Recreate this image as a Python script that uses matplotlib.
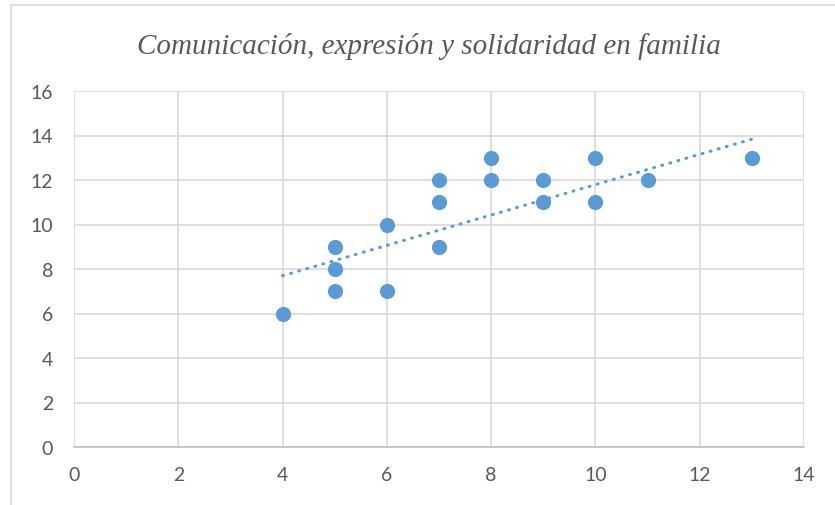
import matplotlib
matplotlib.use("Agg")
import matplotlib.pyplot as plt
import numpy as np
from matplotlib.lines import Line2D

title = "Comunicación, expresión y solidaridad en familia"
x_vals = [4, 5, 5, 5, 6, 6, 7, 7, 7, 8, 8, 9, 9, 10, 10, 11, 13]
y_vals = [6, 9, 8, 7, 10, 7, 12, 11, 9, 13, 12, 12, 11, 13, 11, 12, 13]
trend_coef = [0.682, 4.97]  # slope, intercept
x_ticks = [0, 2, 4, 6, 8, 10, 12, 14]
y_ticks = [0, 2, 4, 6, 8, 10, 12, 14, 16]

blue = "#5B9BD5"
grid = "#D9D9D9"
txt = "#595959"

fig = plt.figure(figsize=(8.35, 5.06), dpi=100)
fig.patch.set_facecolor("white")

# chart border
fig.add_artist(Line2D([10.5/835, 10.5/835], [0, 1 - 5.5/506], color="#D9D9D9", lw=1.2, transform=fig.transFigure))
fig.add_artist(Line2D([10.5/835, 1], [1 - 5.5/506, 1 - 5.5/506], color="#D9D9D9", lw=1.2, transform=fig.transFigure))

ax = fig.add_axes([74/835, 58/506, 730/835, 356/506])
ax.set_xlim(0, 14)
ax.set_ylim(0, 16)
ax.set_xticks(x_ticks)
ax.set_yticks(y_ticks)
ax.grid(True, color=grid, lw=1.2)
ax.set_axisbelow(True)
for s in ["top", "right", "left"]:
    ax.spines[s].set_visible(False)
ax.spines["bottom"].set_color("#BFBFBF")
ax.spines["bottom"].set_linewidth(1.2)
ax.tick_params(length=0, labelsize=14, labelcolor=txt)
ax.tick_params(axis="x", pad=14)
ax.tick_params(axis="y", pad=15)
for lab in ax.get_xticklabels() + ax.get_yticklabels():
    lab.set_family(["Lato", "DejaVu Sans"])

ax.scatter(x_vals, y_vals, s=120, color=blue, zorder=3, linewidths=0)

tx = np.array([min(x_vals), max(x_vals)])
ax.plot(tx, np.polyval(trend_coef, tx), color=blue, lw=2.2, linestyle=(0, (0.3, 2.45)),
        dash_capstyle="round", zorder=2)

fig.text(429/835, 1 - 46/506, title, ha="center", va="center", fontsize=21,
         family="Liberation Serif", style="italic", color=txt)

fig.savefig("out.png", dpi=100)
